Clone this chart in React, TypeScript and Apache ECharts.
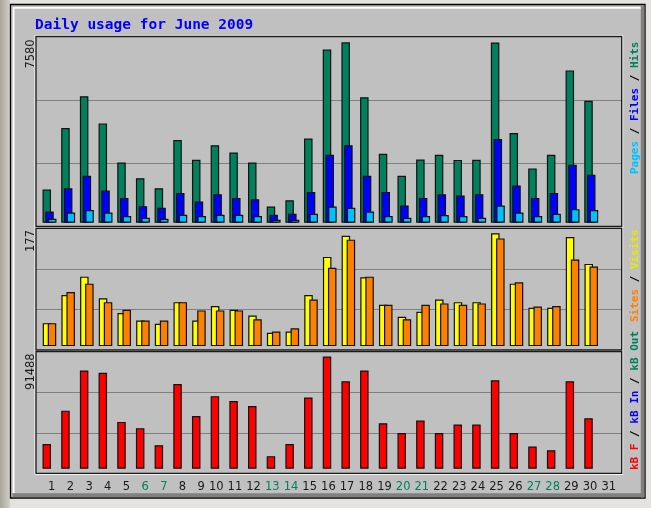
import React, { useEffect, useRef } from 'react';
import * as echarts from 'echarts';

// ---- data ----
const titleText = 'Daily usage for June 2009';
const days = [1, 2, 3, 4, 5, 6, 7, 8, 9, 10, 11, 12, 13, 14, 15, 16, 17, 18, 19, 20, 21, 22, 23, 24, 25, 26, 27, 28, 29, 30];
const dayLabels = [1, 2, 3, 4, 5, 6, 7, 8, 9, 10, 11, 12, 13, 14, 15, 16, 17, 18, 19, 20, 21, 22, 23, 24, 25, 26, 27, 28, 29, 30, 31];
const weekendDays = [6, 7, 13, 14, 20, 21, 27, 28];

const hits = [1391, 3978, 5314, 4173, 2532, 1864, 1447, 3478, 2643, 3255, 2949, 2532, 682, 946, 3533, 7275, 7580, 5272, 2893, 1975, 2651, 2852, 2638, 2646, 7571, 3770, 2281, 2852, 6399, 5119];
const files = [473, 1447, 1975, 1349, 1043, 696, 626, 1252, 890, 1196, 1043, 988, 334, 376, 1294, 2852, 3255, 1975, 1294, 723, 1043, 1196, 1141, 1196, 3520, 1558, 1043, 1252, 2434, 2017];
const pages = [167, 431, 529, 431, 278, 209, 167, 334, 278, 334, 334, 278, 125, 125, 376, 682, 626, 473, 278, 209, 278, 320, 278, 209, 723, 431, 278, 376, 570, 529];

const visits = [36, 80, 109, 75, 52, 40, 35, 69, 40, 63, 57, 48, 21, 23, 80, 140, 173, 108, 65, 46, 54, 73, 69, 69, 177, 98, 60, 60, 171, 129];
const sites = [36, 85, 98, 69, 57, 40, 40, 69, 56, 56, 56, 42, 23, 28, 73, 123, 167, 109, 65, 42, 65, 67, 65, 67, 169, 100, 62, 63, 136, 125];

const kbF = [20183, 47362, 80192, 78308, 38212, 33099, 19106, 69159, 43056, 59202, 55166, 51129, 10226, 20183, 58126, 91488, 71312, 80192, 37136, 29063, 39289, 29063, 36059, 36059, 72119, 29063, 18030, 15070, 71312, 41172];
const kbIn = [0, 0, 0, 0, 0, 0, 0, 0, 0, 0, 0, 0, 0, 0, 0, 0, 0, 0, 0, 0, 0, 0, 0, 0, 0, 0, 0, 0, 0, 0];
const kbOut = [0, 0, 0, 0, 0, 0, 0, 0, 0, 0, 0, 0, 0, 0, 0, 0, 0, 0, 0, 0, 0, 0, 0, 0, 0, 0, 0, 0, 0, 0];

// ---- colours ----
const C_HITS = '#00805c';
const C_FILES = '#0000ff';
const C_PAGES = '#00c0ff';
const C_VISITS = '#ffff00';
const C_SITES = '#ff8000';
const C_KBF = '#ff0000';
const C_KBIN = '#0000ff';
const C_KBOUT = '#00805c';

export default function App() {
  const ref = useRef<HTMLDivElement>(null);

  useEffect(() => {
    if (!ref.current) return;
    const chart = echarts.init(ref.current, undefined, { renderer: 'svg' });

    const maxHits = Math.max(...hits);
    const maxVisits = Math.max(...visits, ...sites);
    const maxKb = Math.max(...kbF, ...kbIn, ...kbOut);

    // panel geometry
    const PX = 36;
    const PW = 585.7;
    const panels = [
      { top: 36.5, height: 190 },
      { top: 228.3, height: 121.7 },
      { top: 351.7, height: 121.6 },
    ];
    // bar value axes ranges (px-calibrated)
    const barRanges = [
      { min: -(maxHits / 180.4) * 3.8, max: maxHits + (maxHits / 180.4) * 5.8 },
      { min: -(maxVisits / 112.8) * 3.9, max: maxVisits + (maxVisits / 112.8) * 5.0 },
      { min: -(maxKb / 112.1) * 4.6, max: maxKb + (maxKb / 112.1) * 4.9 },
    ];
    const XMIN = 0.2777;
    const XMAX = 31.631;

    const grids: any[] = panels.map((p) => ({ left: PX, top: p.top, width: PW, height: p.height, containLabel: false }));
    // label grid
    grids.push({ left: 36.66, top: panels[2].top, width: 31.5 * 18.69, height: panels[2].height });

    const xAxes: any[] = [0, 1, 2].map((g) => ({
      type: 'value', gridIndex: g, min: XMIN, max: XMAX, show: false,
    }));
    xAxes.push({
      type: 'value', gridIndex: 3, min: 0, max: 31.5, interval: 1,
      axisLine: { show: false }, axisTick: { show: false }, splitLine: { show: false },
      axisLabel: {
        show: true, align: 'right', margin: 6.5,
        showMinLabel: false,
        formatter: (v: number) => {
          if (!dayLabels.includes(v)) return '';
          return weekendDays.includes(v) ? `{w|${v}}` : `{d|${v}}`;
        },
        rich: {
          d: { color: '#1a1a1a', fontFamily: 'DejaVu Sans', fontSize: 11.5, lineHeight: 12 },
          w: { color: '#00805c', fontFamily: 'DejaVu Sans', fontSize: 11.5, lineHeight: 12 },
        },
      },
    });

    const yAxes: any[] = [];
    [0, 1, 2].forEach((g) => {
      yAxes.push({
        type: 'value', gridIndex: g, min: 0, max: 3, interval: 1,
        axisLine: { show: false }, axisTick: { show: false }, axisLabel: { show: false },
        splitLine: { show: true, showMinLine: false, showMaxLine: false, lineStyle: { color: '#808080', width: 1.2 } },
      });
      yAxes.push({
        type: 'value', gridIndex: g, min: barRanges[g].min, max: barRanges[g].max, show: false,
        splitLine: { show: false },
      });
    });
    yAxes.push({ type: 'value', gridIndex: 3, show: false, splitLine: { show: false } });

    const bar = (name: string, vals: number[], color: string, g: number, gap: string, bw = 1.2) => ({
      name, type: 'bar', xAxisIndex: g, yAxisIndex: g * 2 + 1,
      data: days.map((d, i) => [d, vals[i]]),
      barWidth: 8.5, barGap: gap,
      itemStyle: { color, borderColor: '#111', borderWidth: bw },
      z: 3,
    });

    const series = [
      bar('Hits', hits, C_HITS, 0, '-68%'),
      bar('Files', files, C_FILES, 0, '-68%'),
      bar('Pages', pages, C_PAGES, 0, '-68%'),
      bar('Visits', visits, C_VISITS, 1, '-41%'),
      bar('Sites', sites, C_SITES, 1, '-41%'),
      bar('KB F', kbF, C_KBF, 2, '-68%'),
      bar('KB In', kbIn, C_KBIN, 2, '-68%', 0),
      bar('KB Out', kbOut, C_KBOUT, 2, '-68%', 0),
    ];

    const frameEls: any[] = [];
    panels.forEach((p) => {
      frameEls.push({
        type: 'rect', z: 20,
        shape: { x: PX - 1, y: p.top - 1, width: PW + 2, height: p.height + 2 },
        style: { fill: 'none', stroke: '#ffffff', lineWidth: 1 },
      });
      frameEls.push({
        type: 'rect', z: 21,
        shape: { x: PX, y: p.top, width: PW, height: p.height },
        style: { fill: 'none', stroke: '#1a1a1a', lineWidth: 1.3 },
      });
    });

    const maxLabelFont = '11.5px "DejaVu Sans"';
    const maxLabelEls = [
      { t: String(maxHits), y: 39.3 },
      { t: String(maxVisits), y: 230 },
      { t: String(maxKb), y: 353.3 },
    ].map((m) => ({
      type: 'text', z: 30, x: 29.5, y: m.y, rotation: Math.PI / 2,
      style: { text: m.t, font: maxLabelFont, fill: '#1a1a1a', align: 'right', verticalAlign: 'middle' },
    }));

    const legFont = { fontFamily: 'DejaVu Sans Mono', fontSize: 11, fontWeight: 'bold' };
    const legendEls = [
      {
        y: 174,
        text: '{p|Pages} {s|/} {f|Files} {s|/} {h|Hits}',
        rich: { p: { ...legFont, fill: C_PAGES }, f: { ...legFont, fill: C_FILES }, h: { ...legFont, fill: C_HITS }, s: { ...legFont, fill: '#000' } },
      },
      {
        y: 322,
        text: '{a|Sites} {s|/} {b|Visits}',
        rich: { a: { ...legFont, fill: C_SITES }, b: { ...legFont, fill: '#e8e800' }, s: { ...legFont, fill: '#000' } },
      },
      {
        y: 470,
        text: '{a|kB F} {s|/} {b|kB In} {s|/} {c|kB Out}',
        rich: { a: { ...legFont, fill: C_KBF }, b: { ...legFont, fill: C_KBIN }, c: { ...legFont, fill: C_KBOUT }, s: { ...legFont, fill: '#000' } },
      },
    ].map((l) => ({
      type: 'text', z: 30, x: 634, y: l.y, rotation: Math.PI / 2,
      style: { text: l.text, rich: l.rich, font: 'bold 11px "DejaVu Sans Mono"', align: 'left', verticalAlign: 'middle' },
    }));

    const bgEls: any[] = [
      { type: 'rect', z: -20, shape: { x: 0, y: 0, width: 651, height: 508 }, style: { fill: '#e4e3df' } },
      {
        type: 'rect', z: -19, shape: { x: 0, y: 0, width: 10, height: 508 },
        style: {
          fill: new echarts.graphic.LinearGradient(0, 0, 1, 0, [
            { offset: 0, color: '#a9a599' },
            { offset: 1, color: '#d2cfc7' },
          ]),
        },
      },
      { type: 'rect', z: -18, shape: { x: 10.5, y: 4.5, width: 634.5, height: 493.5 }, style: { fill: '#c0c0c0', stroke: '#000', lineWidth: 1.3 } },
      { type: 'polyline', z: -17, shape: { points: [[13.6, 493], [13.6, 7.9], [641, 7.9]] }, style: { fill: 'none', stroke: '#ffffff', lineWidth: 1.8 } },
      { type: 'rect', z: -17, shape: { x: 12.5, y: 493.3, width: 631.8, height: 4 }, style: { fill: '#808080' } },
      { type: 'rect', z: -17, shape: { x: 640.8, y: 6, width: 3.5, height: 491.5 }, style: { fill: '#808080' } },
    ];

    const titleEl = {
      type: 'text', z: 30, x: 35, y: 24,
      style: { text: titleText, font: 'bold 14.5px "DejaVu Sans Mono"', fill: '#0000ff', align: 'left', verticalAlign: 'middle' },
    };

    chart.setOption({
      animation: false,
      grid: grids,
      xAxis: xAxes,
      yAxis: yAxes,
      series,
      graphic: { elements: [...bgEls, ...frameEls, ...maxLabelEls, ...legendEls, titleEl] },
    });

    return () => chart.dispose();
  }, []);

  return <div ref={ref} style={{ position: 'fixed', left: 0, top: 0, width: 651, height: 508 }} />;
}
